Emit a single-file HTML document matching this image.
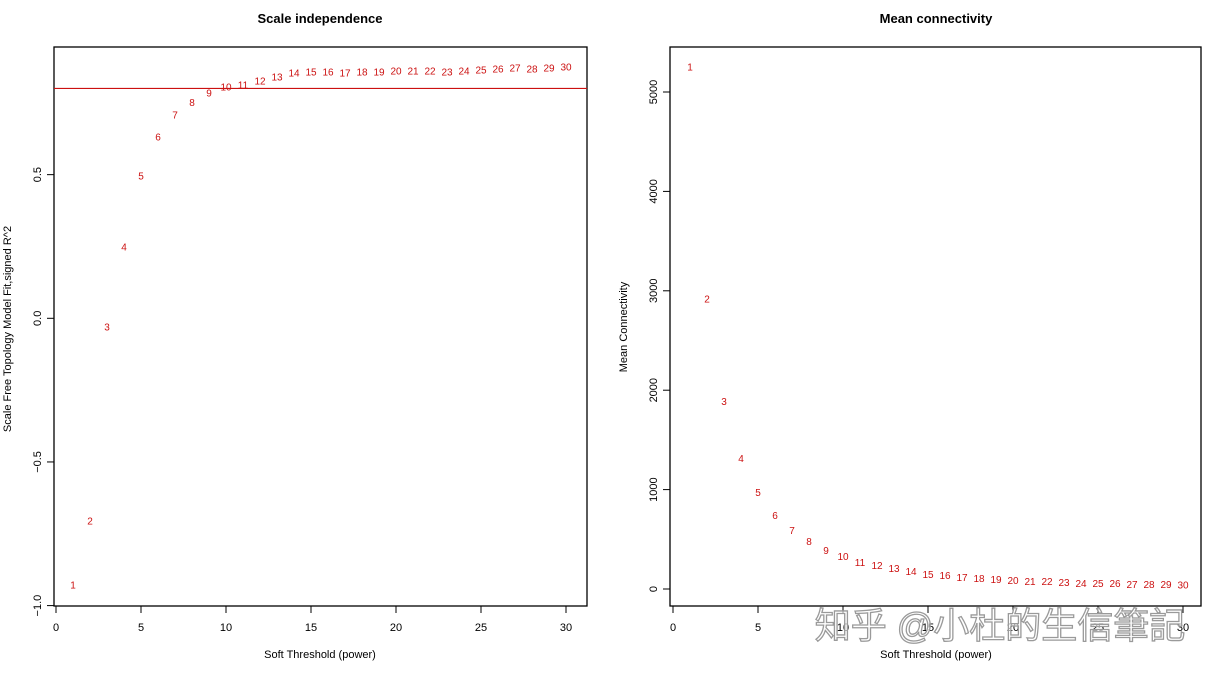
<!DOCTYPE html>
<html><head><meta charset="utf-8"><style>
body{margin:0;background:#fff}
svg text{font-family:"Liberation Sans","Noto Sans CJK SC",sans-serif}
</style></head><body>
<svg id="c" width="1218" height="672" xmlns="http://www.w3.org/2000/svg">
<text x="320" y="23" font-size="13" font-weight="bold" text-anchor="middle">Scale independence</text>
<text x="936" y="23" font-size="13" font-weight="bold" text-anchor="middle">Mean connectivity</text>
<text x="320" y="658" font-size="11" text-anchor="middle">Soft Threshold (power)</text>
<text x="936" y="658" font-size="11" text-anchor="middle">Soft Threshold (power)</text>
<text transform="translate(11,329) rotate(-90)" font-size="11" text-anchor="middle">Scale Free Topology Model Fit,signed R^2</text>
<text transform="translate(627,327) rotate(-90)" font-size="11" text-anchor="middle">Mean Connectivity</text>
<g id="g"></g>
<text x="1000" y="638" font-size="36" fill="#fff" fill-opacity="0.6" stroke="#9a9a9a" stroke-width="1.3" text-anchor="middle">知乎 @小杜的生信筆記</text>
</svg>
<script>
const powers=[1,2,3,4,5,6,7,8,9,10,11,12,13,14,15,16,17,18,19,20,21,22,23,24,25,26,27,28,29,30];
const r2=[-0.928,-0.705,-0.031,0.248,0.495,0.631,0.707,0.752,0.784,0.805,0.812,0.826,0.840,0.854,0.858,0.858,0.854,0.858,0.858,0.861,0.861,0.861,0.858,0.861,0.865,0.868,0.872,0.868,0.872,0.875];
const conn=[5252,2918,1885,1312,970,740,588,478,387,327,266,236,206,175,145,135,115,105,95,85,75,75,65,55,55,55,45,45,45,40];
const leftYTicks=[-1.0,-0.5,0.0,0.5];
const rightYTicks=[0,1000,2000,3000,4000,5000];
const xTicks=[0,5,10,15,20,25,30];
const threshold=0.8;
const NS="http://www.w3.org/2000/svg",g=document.getElementById('g');
function mk(t,a,txt){const e=document.createElementNS(NS,t);for(const k in a)e.setAttribute(k,a[k]);if(txt!==undefined)e.textContent=txt;g.appendChild(e);return e;}
function panel(x0,yFn,box,yTicks,vals,fmt,side){
 const xs=v=>x0+17*v;
 const b=mk('rect',{x:box[0],y:box[1],width:box[2]-box[0],height:box[3]-box[1],fill:'none',stroke:'#000','stroke-width':1.3});
 
 xTicks.forEach(t=>{const X=xs(t);
  const l=mk('line',{x1:X,x2:X,y1:box[3],y2:box[3]+7,stroke:'#000'});
  const tx=mk('text',{x:X,y:box[3]+25,'font-size':11,'text-anchor':'middle'},t);});
 yTicks.forEach(t=>{const Y=yFn(t);
  const l=mk('line',{x1:box[0]-7,x2:box[0],y1:Y,y2:Y,stroke:'#000'});
  const tx=mk('text',{transform:`translate(${box[0]-13},${Y}) rotate(-90)`,'font-size':11,'text-anchor':'middle'},fmt(t));});
 powers.forEach((p,i)=>{const tx=mk('text',{x:xs(p),y:yFn(vals[i])+3.5,'font-size':10,fill:'#cc1111','text-anchor':'middle'},p);
  });
}
const ly=v=>318.3-287.3*v;
panel(56,ly,[54,47,587,606],leftYTicks,r2,t=>t.toFixed(1).replace('-','\u2212'),'left');
const th=mk('line',{x1:54,x2:587,y1:ly(threshold),y2:ly(threshold),stroke:'#cc1111','stroke-width':1.2});

const ry=v=>589-0.0994*v;
panel(673,ry,[670,47,1201,606],rightYTicks,conn,t=>String(t),'right');
</script>
</body></html>
